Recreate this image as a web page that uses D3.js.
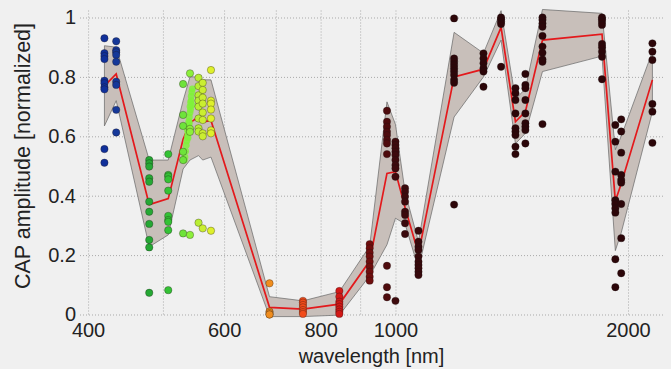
<!DOCTYPE html>
<html>
<head>
<meta charset="utf-8">
<script src="https://cdn.jsdelivr.net/npm/d3@7"></script>
<style>
  body { margin: 0; background: #f0f0f0; }
  svg { display: block; font-family: "Liberation Sans", Arial, sans-serif; }
</style>
</head>
<body>
<svg id="chart" width="671" height="369"></svg>
<script>
// wavelength groups (nm) and the single measurements in each
const groupWl = [420, 435, 480, 508, 531, 542, 556, 563, 577, 687, 759, 846, 926, 975, 1000,
                 1029, 1071, 1191, 1300, 1370, 1430, 1473, 1550, 1851, 1926, 1960, 2151];
const groupVals = [
  [0.93, 0.88, 0.87, 0.86, 0.787, 0.779, 0.765, 0.758, 0.557, 0.511],
  [0.92, 0.89, 0.883, 0.874, 0.851, 0.784, 0.773, 0.689, 0.613],
  [0.52, 0.509, 0.498, 0.459, 0.447, 0.38, 0.346, 0.305, 0.251, 0.226, 0.073],
  [0.54, 0.47, 0.465, 0.455, 0.417, 0.332, 0.318, 0.312, 0.284, 0.082],
  [0.776, 0.672, 0.635, 0.548, 0.52, 0.273],
  [0.812, 0.625, 0.615, 0.268],
  [0.797, 0.769, 0.738, 0.72, 0.70, 0.66, 0.627, 0.616, 0.309],
  [0.78, 0.756, 0.73, 0.71, 0.68, 0.655, 0.61, 0.60, 0.29],
  [0.823, 0.72, 0.71, 0.69, 0.66, 0.62, 0.61, 0.282],
  [0.105, 0.01, 0.005, 0.0, 0.0],
  [0.046, 0.04, 0.032, 0.024, 0.015, 0.008, 0.002],
  [0.079, 0.06, 0.043, 0.035, 0.026, 0.017, 0.009, 0.002],
  [0.237, 0.223, 0.208, 0.195, 0.178, 0.161, 0.144, 0.127, 0.114],
  [0.686, 0.649, 0.632, 0.615, 0.604, 0.588, 0.576, 0.54, 0.164, 0.092, 0.058],
  [0.582, 0.571, 0.56, 0.548, 0.537, 0.52, 0.503, 0.492, 0.464, 0.046],
  [0.425, 0.413, 0.397, 0.38, 0.346, 0.335, 0.307, 0.271],
  [0.282, 0.245, 0.228, 0.217, 0.195, 0.178, 0.167, 0.156, 0.144, 0.133],
  [0.997, 0.862, 0.851, 0.84, 0.829, 0.818, 0.806, 0.79, 0.78, 0.37],
  [0.879, 0.862, 0.846, 0.829, 0.818, 0.767],
  [1.0, 0.994, 0.986, 0.978, 0.834],
  [0.762, 0.745, 0.722, 0.677, 0.627, 0.616, 0.604, 0.565, 0.54],
  [0.81, 0.773, 0.762, 0.722, 0.677, 0.644, 0.632, 0.621, 0.576],
  [1.0, 0.992, 0.98, 0.969, 0.938, 0.902, 0.881, 0.859, 0.851, 0.641],
  [1.0, 0.994, 0.985, 0.975, 0.911, 0.9, 0.885, 0.868, 0.792],
  [0.638, 0.582, 0.481, 0.385, 0.372, 0.357, 0.343, 0.186, 0.092],
  [0.657, 0.616, 0.545, 0.47, 0.453, 0.444, 0.372, 0.257, 0.139],
  [0.913, 0.885, 0.857, 0.709, 0.683, 0.578]
];

// dense light-green sweep around 540 nm
const sweepWl  = [533, 534, 535, 536, 537, 538, 538, 539, 540, 540, 541, 542, 542, 543, 543, 544, 544, 545, 545, 546, 541, 539];
const sweepVal = [0.52, 0.53, 0.55, 0.57, 0.585, 0.60, 0.62, 0.61, 0.635, 0.65, 0.665, 0.68, 0.70, 0.69, 0.715, 0.72, 0.735, 0.75, 0.705, 0.76, 0.645, 0.595];

// mean curve and mean +/- sd band
const meanWl  = groupWl;
const meanVal = [0.77, 0.81, 0.37, 0.39, 0.59, 0.645, 0.666, 0.649, 0.653, 0.024, 0.018, 0.035, 0.18, 0.475,
                 0.481, 0.36, 0.205, 0.80, 0.826, 0.967, 0.649, 0.683, 0.924, 0.944, 0.382, 0.44, 0.79];
const bandLo  = [0.635, 0.72, 0.228, 0.268, 0.49, 0.52, 0.535, 0.52, 0.53, -0.007, -0.007, -0.002, 0.13, 0.235,
                 0.324, 0.305, 0.155, 0.665, 0.80, 0.924, 0.575, 0.61, 0.818, 0.87, 0.215, 0.275, 0.683];
const bandHi  = [0.905, 0.90, 0.52, 0.52, 0.72, 0.80, 0.80, 0.79, 0.79, 0.06, 0.046, 0.077, 0.23, 0.716,
                 0.64, 0.413, 0.245, 0.95, 0.88, 1.023, 0.725, 0.76, 1.027, 1.014, 0.555, 0.60, 0.885];

const gridWl  = [400, 500, 600, 700, 800, 900, 1000, 2000];
const xTicks  = [400, 600, 800, 1000, 2000];
const yTicks  = [0, 0.2, 0.4, 0.6, 0.8, 1];

const svg = d3.select('#chart');
const plotLeft = 80, plotRight = 663, plotTop = 10, plotBottom = 314.5;

const x = d3.scaleLog().domain([390.5, 2220]).range([plotLeft, plotRight]);
const y = d3.scaleLinear().domain([0, 1]).range([plotBottom, 17.5]);

const dotColor = d3.scaleLinear()
  .domain([420, 440, 480, 510, 540, 560, 580, 690, 760, 850, 930, 1000, 1200])
  .range(['#10309a', '#163a98', '#25a834', '#35c435', '#86f03c', '#c6ee32', '#e2f02a',
          '#f08a1e', '#f24a1a', '#d01616', '#6a0c0c', '#3e0a0d', '#2c0609'])
  .clamp(true);

// grid
svg.append('g')
  .attr('transform', `translate(0, ${plotBottom})`)
  .call(d3.axisBottom(x).tickValues(gridWl).tickFormat('').tickSize(-(plotBottom - plotTop)))
  .call(g => g.select('.domain').remove())
  .call(g => g.selectAll('line').attr('stroke', '#a9a9a9').attr('stroke-dasharray', '1,2'));

svg.append('g')
  .attr('transform', `translate(${plotLeft}, 0)`)
  .call(d3.axisLeft(y).tickValues(yTicks).tickFormat('').tickSize(-(plotRight - plotLeft)))
  .call(g => g.select('.domain').remove())
  .call(g => g.selectAll('line').attr('stroke', '#a9a9a9').attr('stroke-dasharray', '1,2'));

// band
const band = d3.area()
  .x((d, i) => x(meanWl[i]))
  .y0((d, i) => y(bandLo[i]))
  .y1((d, i) => y(bandHi[i]));
svg.append('path')
  .datum(meanWl)
  .attr('d', band)
  .attr('fill', '#c8bfba')
  .attr('stroke', '#666')
  .attr('stroke-width', 0.7);

// mean line
const line = d3.line()
  .x((d, i) => x(meanWl[i]))
  .y((d, i) => y(meanVal[i]));
svg.append('path')
  .datum(meanWl)
  .attr('d', line)
  .attr('fill', 'none')
  .attr('stroke', '#e3191c')
  .attr('stroke-width', 1.7);

// sweep points
svg.append('g').selectAll('circle')
  .data(sweepWl)
  .enter().append('circle')
  .attr('cx', (d) => x(d))
  .attr('cy', (d, i) => y(sweepVal[i]))
  .attr('r', 3.4)
  .attr('fill', '#7ff23a')
  .attr('opacity', 0.85);

// single measurements
const pts = [];
groupWl.forEach((wl, i) => groupVals[i].forEach(v => pts.push({ wl: wl, v: v })));
svg.append('g').selectAll('circle')
  .data(pts)
  .enter().append('circle')
  .attr('cx', (d) => x(d.wl))
  .attr('cy', (d) => y(d.v))
  .attr('r', 3.7)
  .attr('fill', (d) => dotColor(d.wl))
  .attr('stroke', 'rgba(30,20,20,0.45)')
  .attr('stroke-width', 0.7);

// tick labels
svg.append('g')
  .attr('transform', `translate(0, ${plotBottom})`)
  .call(d3.axisBottom(x).tickValues(xTicks).tickFormat(d3.format('d')).tickSize(0).tickPadding(8))
  .call(g => g.select('.domain').remove())
  .call(g => g.selectAll('text').attr('font-size', 20).attr('fill', '#222').attr('font-family', null));

svg.append('g')
  .attr('transform', `translate(${plotLeft}, 0)`)
  .call(d3.axisLeft(y).tickValues(yTicks).tickFormat((d) => (d === 0 || d === 1) ? d3.format('d')(d) : d3.format('.1f')(d)).tickSize(0).tickPadding(4))
  .call(g => g.select('.domain').remove())
  .call(g => g.selectAll('text').attr('font-size', 20).attr('fill', '#222').attr('font-family', null));

// axis titles
svg.append('text')
  .attr('x', (plotLeft + plotRight) / 2)
  .attr('y', 363)
  .attr('text-anchor', 'middle')
  .attr('font-size', 20)
  .attr('fill', '#222')
  .text('wavelength [nm]');

svg.append('text')
  .attr('transform', 'translate(30, 156) rotate(-90)')
  .attr('text-anchor', 'middle')
  .attr('font-size', 21.5)
  .attr('fill', '#222')
  .text('CAP amplitude [normalized]');
</script>
</body>
</html>
